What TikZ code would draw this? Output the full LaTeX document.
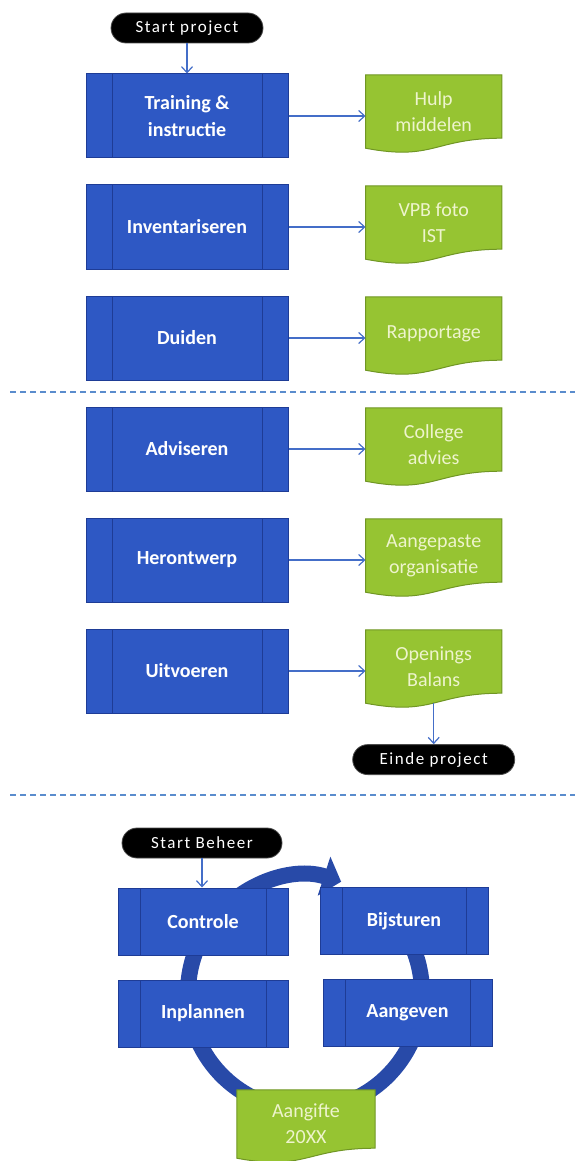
\documentclass[tikz,border=0pt]{standalone}
\usepackage{fontspec}
\setmainfont{Carlito}
\newfontfamily\pillfont[LetterSpace=9]{Carlito}
\usetikzlibrary{positioning,arrows.meta,backgrounds}

\definecolor{procblue}{RGB}{46,88,196}
\definecolor{procedge}{RGB}{30,60,150}
\definecolor{docgreen}{RGB}{150,196,50}
\definecolor{docedge}{RGB}{112,150,36}
\definecolor{doctext}{RGB}{238,244,205}
\definecolor{linkblue}{RGB}{68,110,200}
\definecolor{ringblue}{RGB}{40,74,168}
\definecolor{sepblue}{RGB}{90,140,205}

\tikzset{
  proc/.style={rectangle, fill=procblue, draw=procedge, line width=1pt,
    minimum width=202pt, minimum height=84pt, text=white, align=center,
    font=\fontsize{20}{27}\selectfont\bfseries,
    path picture={\draw[procedge, line width=1pt]
      ([xshift=#1]path picture bounding box.north west) -- ([xshift=#1]path picture bounding box.south west)
      ([xshift=-#1]path picture bounding box.north east) -- ([xshift=-#1]path picture bounding box.south east);}},
  proc/.default=26pt,
  doc/.style={rectangle, minimum width=136pt, minimum height=73pt, text=doctext, align=center,
    font=\fontsize{20}{26}\selectfont},
  pill/.style={rectangle, rounded corners=15pt, fill=black, draw=gray!60!black, line width=0.8pt,
    minimum width=152pt, minimum height=30pt, text=white, font=\pillfont\fontsize{17}{20}\selectfont},
  link/.style={-{Straight Barb[length=6pt,width=11pt]}, linkblue, line width=1.2pt},
  sepline/.style={sepblue, line width=1.2pt, dash pattern=on 6pt off 4pt},
  ring/.style={ringblue, line width=16pt, -{Triangle[length=18pt,width=40pt]}}
}

% document shape behind a doc node
\newcommand{\docshape}[1]{%
  \begin{scope}[on background layer]
    \filldraw[fill=docgreen, draw=docedge, line width=1pt] (#1.north west) -- (#1.north east)
      -- ([yshift=10pt]#1.south east) .. controls ([yshift=10pt]#1.south) and ([yshift=-13pt]#1.south) .. (#1.south west) -- cycle;
  \end{scope}}

\begin{document}
\begin{tikzpicture}[x=1pt, y=1pt]
  \useasboundingbox (0,0) rectangle (580,-1161);

  % project
  \node[pill] (startp) at (187,-28) {Start project};
  \node[proc] (train) at (187,-116) {Training \&\\instructie};
  \node[proc, below=26pt of train] (invent) {Inventariseren};
  \node[proc, below=26pt of invent] (duiden) {Duiden};
  \node[proc, below=26pt of duiden] (advis) {Adviseren};
  \node[proc, below=26pt of advis] (heront) {Herontwerp};
  \node[proc, below=26pt of heront] (uitvoer) {Uitvoeren};

  \node[doc, right=77pt of train, yshift=4.5pt] (hulp) {Hulp\\middelen};
  \node[doc, right=77pt of invent, yshift=4.5pt] (vpb) {VPB foto\\IST};
  \node[doc, right=77pt of duiden, yshift=4.5pt] (rapport) {Rapportage};
  \node[doc, right=77pt of advis, yshift=4.5pt] (college) {College\\advies};
  \node[doc, right=77pt of heront, yshift=4.5pt] (aangep) {Aangepaste\\organisatie};
  \node[doc, right=77pt of uitvoer, yshift=4.5pt] (opening) {Openings\\Balans};
  \docshape{hulp}
  \docshape{vpb}
  \docshape{rapport}
  \docshape{college}
  \docshape{aangep}
  \docshape{opening}

  \node[pill, below=41pt of opening, minimum width=162pt] (einde) {Einde project};

  \draw[link] (startp) -- (train);
  \draw[link] (train.east) -- (train.east -| hulp.west);
  \draw[link] (invent.east) -- (invent.east -| vpb.west);
  \draw[link] (duiden.east) -- (duiden.east -| rapport.west);
  \draw[link] (advis.east) -- (advis.east -| college.west);
  \draw[link] (heront.east) -- (heront.east -| aangep.west);
  \draw[link] (uitvoer.east) -- (uitvoer.east -| opening.west);
  \draw[link] (opening.south) -- (einde.north);

  \draw[sepline] (10,-392) -- (575,-392);
  \draw[sepline] (10,-795) -- (575,-795);

  % beheer cycle
  \coordinate (ringc) at (305,-993);
  \begin{scope}[on background layer]
    \draw[ring] ([shift={(55:117pt)}]ringc) arc[start angle=55, end angle=-288, radius=117pt];
  \end{scope}

  \node[pill, minimum width=160pt] (startb) at (202,-843) {Start Beheer};
  \node[proc=22pt, minimum width=170pt, minimum height=67pt] (contr) at (203,-921.5) {Controle};
  \node[proc=22pt, minimum width=168pt, minimum height=67pt] (bijst) at (404,-921) {Bijsturen};
  \node[proc=22pt, minimum width=170pt, minimum height=67pt] (inpl) at (203,-1013.5) {Inplannen};
  \node[proc=22pt, minimum width=169pt, minimum height=67pt] (aangev) at (407.5,-1013) {Aangeven};
  \node[doc, minimum width=138pt, minimum height=68pt] (aangifte) at (306,-1124) {Aangifte\\20XX};
  \docshape{aangifte}

  \draw[link] (startb) -- (startb |- contr.north);
\end{tikzpicture}
\end{document}
